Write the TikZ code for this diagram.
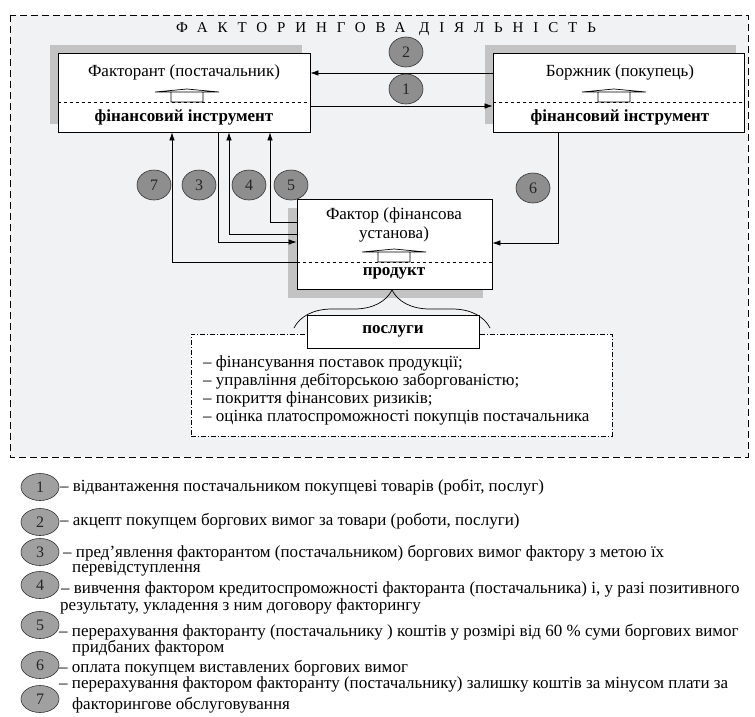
\documentclass[tikz,border=0pt]{standalone}
\usepackage{fontspec}
\setmainfont{Liberation Serif}
\usetikzlibrary{arrows.meta,shapes.geometric,shadows,decorations.pathreplacing}

\definecolor{bggray}{HTML}{F1F2F4}
\definecolor{shadowgray}{HTML}{C3C3C3}
\definecolor{circgray}{HTML}{8E8E8E}
\definecolor{keygray}{HTML}{A0A0A0}

\begin{document}
\begin{tikzpicture}[x=1pt,y=-1pt,
  box/.style={draw,fill=white,line width=0.8pt,inner sep=0pt},
  upshadow/.style={drop shadow={shadow xshift=-8pt,shadow yshift=8pt,fill=shadowgray,opacity=1}},
  downshadow/.style={drop shadow={shadow xshift=-9pt,shadow yshift=-9pt,fill=shadowgray,opacity=1}},
  num/.style={ellipse,draw=black!80,fill=circgray,line width=0.6pt,minimum width=34pt,minimum height=30pt,inner sep=0pt,text=black!85,font=\fontsize{16}{16}\selectfont},
  key/.style={num,fill=keygray,minimum width=38pt,minimum height=27pt},
  arr/.style={-{Latex[length=8pt,width=5.5pt]},line width=0.7pt},
  txt/.style={inner sep=0pt,font=\fontsize{17}{18.3}\selectfont},
  btxt/.style={inner sep=0pt,font=\fontsize{17}{18.3}\selectfont\bfseries},
  keytxt/.style={anchor=west,inner sep=0pt,font=\fontsize{17}{14}\selectfont},
  roof/.pic={\draw[line width=0.7pt] (-32,-10) -- (0,-13) -- (32,-10) -- cycle (-16,-10) rectangle (16,0);}]
\useasboundingbox (0,0) rectangle (755,716);
\draw[fill=bggray,line width=0.7pt,dash pattern=on 7pt off 4pt] (10,15) rectangle (748,457);
\node[font=\fontsize{15}{15}\selectfont\addfontfeature{LetterSpace=66}] (title) at (386,29) {ФАКТОРИНГОВА ДІЯЛЬНІСТЬ};

% boxes
\node[box,upshadow,minimum width=252pt,minimum height=79pt] (fr) at (184,92.5) {};
\node[box,upshadow,minimum width=251pt,minimum height=79pt] (bo) at (618.5,92.5) {};
\node[box,downshadow,minimum width=195pt,minimum height=90pt] (fa) at (394.5,244) {};
\foreach \b in {fr,bo} {
\draw[dashed,line width=0.7pt] ([yshift=-9.5pt]\b.west) -- ([yshift=-9.5pt]\b.east);
}
\draw[dashed,line width=0.7pt] ([yshift=-18pt]fa.west) -- ([yshift=-18pt]fa.east);
\node[txt] (frname) at (184,72) {Факторант (постачальник)};
\node[btxt] (frtool) at (184,117) {фінансовий інструмент};
\node[txt] (boname) at (620,72) {Боржник (покупець)};
\node[btxt] (botool) at (620,117) {фінансовий інструмент};
\node[txt,align=center] (faname) at (394,225) {Фактор (фінансова\\установа)};
\node[btxt] (faprod) at (394,273) {продукт};
\pic at (187,102) {roof};
\pic at (614,102) {roof};
\pic at (394,262) {roof};

% flows
\draw[arr] ([yshift=19.5pt]bo.west) -- ([yshift=19.5pt]fr.east);
\draw[arr] ([yshift=-13.5pt]fr.east) -- ([yshift=-13.5pt]bo.west);
\draw[arr] ([yshift=-18pt]fa.west) -| ([xshift=-12pt]fr.south);
\draw[arr] ([xshift=34pt]fr.south) |- ([yshift=2pt]fa.west);
\draw[arr] ([yshift=10pt]fa.west) -| ([xshift=45pt]fr.south);
\draw[arr] ([yshift=22pt]fa.west) -| ([xshift=86pt]fr.south);
\draw[arr] ([xshift=-60.5pt]bo.south) |- ([yshift=1pt]fa.east);
\node[num] (n2) at (406,52) {2};
\node[num] (n1) at (406,89) {1};
\node[num] (n7) at (154,185) {7};
\node[num] (n3) at (199,185) {3};
\node[num] (n4) at (249,185) {4};
\node[num] (n5) at (291,185) {5};
\node[num] (n6) at (533,188) {6};

% services
\coordinate (bl) at (294,328);
\coordinate (br) at (490,328);
\draw[decorate,decoration={brace,amplitude=38pt},line width=0.7pt] (bl) -- (br);
\node[draw,fill=white,line width=0.6pt,dash pattern=on 5pt off 2pt on 1pt off 2pt,minimum width=421pt,minimum height=102pt] (srv) at (401.5,385) {};
\node[box,btxt,minimum width=172pt,minimum height=33pt] (posl) at (393,331.5) {послуги};
\node[txt,anchor=north west,align=left] (list) at (203,355) {– фінансування поставок продукції;\\
– управління дебіторською заборгованістю;\\
– покриття фінансових ризиків;\\
– оцінка платоспроможності покупців постачальника};

% legend
\foreach \n/\y in {1/487,2/522,3/552,4/585,5/625,6/665,7/699} {
\node[key] (k\n) at (40,\y) {\n};
}
\node[keytxt] (t1) at (60,487) {– відвантаження постачальником покупцеві товарів (робіт, послуг)};
\node[keytxt] (t2) at (60,521) {– акцепт покупцем боргових вимог за товари (роботи, послуги)};
\node[keytxt] (t3) at (63,553) {– пред’явлення факторантом (постачальником) боргових вимог фактору з метою їх};
\node[keytxt] (t3b) at (72,569) {перевідступлення};
\node[keytxt] (t4) at (61,589) {– вивчення фактором кредитоспроможності факторанта (постачальника) і, у разі позитивного};
\node[keytxt] (t4b) at (60,606) {результату, укладення з ним договору факторингу};
\node[keytxt] (t5) at (59,632) {– перерахування факторанту (постачальнику ) коштів у розмірі від 60 \% суми боргових вимог};
\node[keytxt] (t5b) at (72,648) {придбаних фактором};
\node[keytxt] (t6) at (59,668) {– оплата покупцем виставлених боргових вимог};
\node[keytxt] (t7) at (59,684) {– перерахування фактором факторанту (постачальнику) залишку коштів за мінусом плати за};
\node[keytxt] (t7b) at (72,705) {факторингове обслуговування};
\end{tikzpicture}
\end{document}
